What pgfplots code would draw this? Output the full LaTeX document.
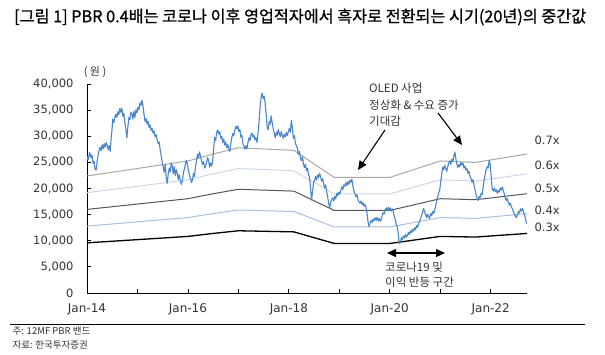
\documentclass[border=0pt]{standalone}
\usepackage{fontspec}
\usepackage{graphicx}
\setmainfont{Noto Sans CJK KR}
\newfontfamily\titlefont[FakeBold=0.9]{Noto Sans CJK KR}
\newfontfamily\numfont{DejaVu Sans}
\usepackage{pgfplots}
\pgfplotsset{compat=1.18}
\usetikzlibrary{arrows.meta}
\definecolor{priceblue}{HTML}{4A86C8}
\definecolor{band7}{HTML}{A8A8A8}
\definecolor{band6}{HTML}{CCD6E8}
\definecolor{band5}{HTML}{555555}
\definecolor{band4}{HTML}{A6BFE2}
\definecolor{txtgray}{HTML}{333333}
\begin{document}
\begin{tikzpicture}[x=1pt,y=1pt]
\useasboundingbox (0,0) rectangle (605,354);
\begin{axis}[
  at={(87pt,61pt)}, anchor=south west,
  scale only axis, width=440pt, height=209pt,
  xmin=2014, xmax=2022.72, ymin=0, ymax=40000,
  axis x line*=bottom, axis y line*=left,
  axis line style={black, line width=0.9pt, -},
  tick align=inside, major tick length=4pt,
  tick style={black, line width=0.8pt},
  xtick={2014,2015,...,2022},
  xticklabels={Jan-14,,Jan-16,,Jan-18,,Jan-20,,Jan-22},
  ytick={0,5000,...,40000},
  scaled y ticks=false,
  /pgf/number format/.cd, 1000 sep={,}, assume math mode=true,
  /pgfplots/.cd,
  ticklabel style={font=\numfont\fontsize{11.5}{12}\selectfont, text=txtgray},
  yticklabel style={xshift=-10pt},
  xticklabel style={yshift=-7pt, font=\numfont\fontsize{12}{13}\selectfont},
  clip=false,
]
% bands
\addplot[band7, line width=1pt] coordinates {(2014.0,22400) (2016.0,25270) (2016.5,26600) (2017.0,27790) (2018.1,27300) (2018.9,22120) (2020.0,22120) (2021.0,25270) (2021.7,24990) (2022.72,26600)};
\addplot[band6, line width=1pt] coordinates {(2014.0,19200) (2016.0,21660) (2016.5,22800) (2017.0,23820) (2018.1,23400) (2018.9,18960) (2020.0,18960) (2021.0,21660) (2021.7,21420) (2022.72,22800)};
\addplot[band5, line width=1pt] coordinates {(2014.0,16000) (2016.0,18050) (2016.5,19000) (2017.0,19850) (2018.1,19500) (2018.9,15800) (2020.0,15800) (2021.0,18050) (2021.7,17850) (2022.72,19000)};
\addplot[band4, line width=1pt] coordinates {(2014.0,12800) (2016.0,14440) (2016.5,15200) (2017.0,15880) (2018.1,15600) (2018.9,12640) (2020.0,12640) (2021.0,14440) (2021.7,14280) (2022.72,15200)};
\addplot[black, line width=1.3pt] coordinates {(2014.0,9600) (2016.0,10830) (2016.5,11400) (2017.0,11910) (2018.1,11700) (2018.9,9480) (2020.0,9480) (2021.0,10830) (2021.7,10710) (2022.72,11400)};
% price
\addplot[priceblue, line width=1.1pt, line join=round] table {
2014.00 25300
2014.02 26200
2014.03 25600
2014.05 26900
2014.06 26700
2014.08 25900
2014.10 26400
2014.12 24800
2014.14 25200
2014.16 23700
2014.18 23500
2014.20 25100
2014.22 26400
2014.24 27300
2014.26 27900
2014.28 27200
2014.30 28400
2014.32 27600
2014.34 28600
2014.36 27900
2014.38 28800
2014.40 28300
2014.42 27400
2014.44 28200
2014.46 27100
2014.48 29800
2014.50 31800
2014.51 33300
2014.53 32600
2014.55 33500
2014.57 34200
2014.59 33600
2014.61 34700
2014.63 34100
2014.65 35300
2014.67 34600
2014.69 35400
2014.71 33800
2014.73 34400
2014.75 32700
2014.77 31400
2014.79 29700
2014.81 31800
2014.83 33600
2014.85 33200
2014.87 34600
2014.89 34400
2014.91 33300
2014.93 34800
2014.95 33600
2014.97 35100
2014.99 34500
2015.01 35600
2015.03 35100
2015.05 36400
2015.07 35900
2015.09 36900
2015.11 35800
2015.13 34200
2015.15 32800
2015.17 33400
2015.19 32300
2015.21 32900
2015.23 31700
2015.25 32200
2015.27 31100
2015.29 31500
2015.31 30600
2015.33 31000
2015.35 29900
2015.37 30300
2015.39 29300
2015.41 28600
2015.43 28900
2015.45 27400
2015.47 26300
2015.49 25000
2015.51 24200
2015.53 23100
2015.55 24600
2015.57 22100
2015.59 21000
2015.61 22800
2015.63 23900
2015.65 23200
2015.67 24900
2015.69 24300
2015.71 22800
2015.73 24200
2015.75 22500
2015.77 23600
2015.79 22900
2015.81 21700
2015.83 22600
2015.85 21400
2015.87 20800
2015.89 21500
2015.91 22900
2015.93 23800
2015.95 24600
2015.97 25400
2015.99 24700
2016.01 23300
2016.03 22600
2016.05 22000
2016.07 21100
2016.09 21600
2016.11 22900
2016.13 22300
2016.15 24100
2016.17 25200
2016.19 26600
2016.21 25900
2016.23 27000
2016.25 26200
2016.27 25300
2016.29 24600
2016.31 25200
2016.33 23900
2016.35 24300
2016.37 25100
2016.39 25900
2016.41 25300
2016.43 24100
2016.45 24900
2016.47 24300
2016.49 25200
2016.51 27600
2016.53 29800
2016.55 29200
2016.57 30800
2016.59 31200
2016.61 30400
2016.63 30900
2016.65 29600
2016.67 30000
2016.69 28800
2016.71 29500
2016.73 28300
2016.75 28900
2016.77 27800
2016.79 28400
2016.81 27500
2016.83 27100
2016.85 28600
2016.87 29800
2016.89 30500
2016.91 30100
2016.93 31200
2016.95 31900
2016.97 31400
2016.99 32000
2017.01 30900
2017.03 31300
2017.05 29800
2017.07 30200
2017.09 28600
2017.11 28100
2017.13 27500
2017.15 28200
2017.17 27600
2017.19 28800
2017.21 29700
2017.23 29200
2017.25 30300
2017.27 30600
2017.29 29800
2017.31 30200
2017.33 29300
2017.35 29700
2017.37 28800
2017.39 30600
2017.41 32800
2017.43 35600
2017.45 37400
2017.47 38300
2017.49 37200
2017.51 37700
2017.53 36400
2017.55 34200
2017.57 31800
2017.59 31200
2017.61 32800
2017.63 32300
2017.65 33900
2017.67 32600
2017.69 31400
2017.71 30600
2017.73 29700
2017.75 30800
2017.77 30200
2017.79 31300
2017.81 30600
2017.83 29900
2017.85 30900
2017.87 30200
2017.89 29600
2017.91 30400
2017.93 29900
2017.95 30700
2017.97 30100
2017.99 30900
2018.01 31500
2018.03 30800
2018.05 33000
2018.07 31600
2018.09 29600
2018.11 30100
2018.13 28700
2018.15 28100
2018.17 27700
2018.19 26500
2018.21 27100
2018.23 25900
2018.25 25300
2018.27 26100
2018.29 24700
2018.31 24000
2018.33 24600
2018.35 23400
2018.37 23900
2018.39 22700
2018.41 22100
2018.43 20300
2018.45 17800
2018.47 19400
2018.49 21200
2018.51 21500
2018.53 22300
2018.55 21600
2018.57 22600
2018.59 22100
2018.61 22900
2018.63 22200
2018.65 21400
2018.67 21900
2018.69 20800
2018.71 20100
2018.73 20700
2018.75 19300
2018.77 18400
2018.79 17100
2018.81 16300
2018.83 17400
2018.85 17900
2018.87 18200
2018.89 17600
2018.91 18500
2018.93 18000
2018.95 19100
2018.97 18600
2018.99 19300
2019.01 18900
2019.03 19700
2019.05 20300
2019.07 19800
2019.09 20700
2019.11 20400
2019.13 21100
2019.15 20600
2019.17 21300
2019.19 20800
2019.21 21600
2019.23 21200
2019.25 21800
2019.27 20400
2019.29 19500
2019.31 19000
2019.33 18400
2019.35 18800
2019.37 17900
2019.39 17400
2019.41 17200
2019.43 17600
2019.45 16900
2019.47 17300
2019.49 16600
2019.51 16900
2019.53 16400
2019.55 15200
2019.57 13600
2019.59 12700
2019.61 13400
2019.63 13900
2019.65 13500
2019.67 14200
2019.69 13800
2019.71 14400
2019.73 13900
2019.75 14500
2019.77 13800
2019.79 14300
2019.81 13700
2019.83 14100
2019.85 14800
2019.87 15400
2019.89 15100
2019.91 15900
2019.93 16300
2019.95 15800
2019.97 16400
2019.99 15900
2020.01 16300
2020.03 15700
2020.05 16100
2020.07 15500
2020.09 14600
2020.11 14100
2020.13 13000
2020.15 12600
2020.17 11200
2020.19 9400
2020.21 9700
2020.23 10600
2020.25 10200
2020.27 10900
2020.29 10500
2020.31 11200
2020.33 10700
2020.35 11000
2020.37 11600
2020.39 11200
2020.41 11900
2020.43 11500
2020.45 12200
2020.47 11800
2020.49 12500
2020.51 12100
2020.53 12900
2020.55 12500
2020.57 13300
2020.59 13600
2020.61 14200
2020.63 14900
2020.65 15400
2020.67 16200
2020.69 15600
2020.71 15000
2020.73 14400
2020.75 15100
2020.77 14600
2020.79 14300
2020.81 15200
2020.83 14800
2020.85 15600
2020.87 15200
2020.89 15900
2020.91 16700
2020.93 17600
2020.95 18400
2020.97 19200
2020.99 19700
2021.01 21300
2021.03 22800
2021.05 24100
2021.07 23600
2021.09 24400
2021.11 23800
2021.13 23300
2021.15 24200
2021.17 24900
2021.19 25300
2021.21 24600
2021.23 25600
2021.25 25100
2021.27 26200
2021.29 27000
2021.31 25700
2021.33 24700
2021.35 24000
2021.37 24600
2021.39 24200
2021.41 25000
2021.43 24500
2021.45 24900
2021.47 23900
2021.49 24300
2021.51 23500
2021.53 23800
2021.55 22900
2021.57 23300
2021.59 22300
2021.61 21900
2021.63 21200
2021.65 21700
2021.67 20600
2021.69 19700
2021.71 18900
2021.73 18100
2021.75 17700
2021.77 18500
2021.79 18200
2021.81 19100
2021.83 18800
2021.85 20200
2021.87 21600
2021.89 22700
2021.91 23600
2021.93 24200
2021.95 23900
2021.97 25400
2021.99 24600
2022.01 22300
2022.03 19900
2022.05 19500
2022.07 20100
2022.09 19400
2022.11 19800
2022.13 19100
2022.15 19600
2022.17 19300
2022.19 20100
2022.21 19700
2022.23 20300
2022.25 19600
2022.27 19000
2022.29 18200
2022.31 17700
2022.33 18100
2022.35 17300
2022.37 16800
2022.39 17200
2022.41 16500
2022.43 16100
2022.45 15600
2022.47 15100
2022.49 14700
2022.51 14400
2022.53 15000
2022.55 15600
2022.57 15300
2022.59 16100
2022.61 15700
2022.63 16200
2022.65 15500
2022.67 15000
2022.69 14200
2022.71 13300
};
\end{axis}
% title
\node[anchor=west, inner sep=0pt, text=black] at (14,337) {\resizebox{572pt}{!}{\titlefont\fontsize{13}{15}\selectfont [그림 1] PBR 0.4배는 코로나 이후 영업적자에서 흑자로 전환되는 시기(20년)의 중간값}};
% unit
\node[font=\fontsize{11}{12}\selectfont, text=txtgray] at (95,282) {( 원 )};
% band labels
\begin{scope}[every node/.style={anchor=west, font=\numfont\fontsize{11.5}{12}\selectfont, text=txtgray}]
\node at (531,214) {0.7x};
\node at (531,189) {0.6x};
\node at (531,166) {0.5x};
\node at (531,144) {0.4x};
\node at (531,127) {0.3x};
\end{scope}
% annotations
\begin{scope}[every node/.style={anchor=west, font=\fontsize{11.5}{13}\selectfont, text=txtgray, inner sep=0pt}]
\node at (369,266) {OLED 사업};
\node at (369,249) {정상화 \& 수요 증가};
\node at (369,233) {기대감};
\node at (385,87) {코로나19 및};
\node at (385,72) {이익 반등 구간};
\end{scope}
\draw[black, line width=1.1pt, -{Triangle[length=9pt,width=8pt]}] (385,224) -- (358,184);
\draw[black, line width=1.1pt, -{Triangle[length=9pt,width=8pt]}] (438,241) -- (462,209);
\draw[black, line width=1.1pt, {Triangle[length=9pt,width=8pt]}-{Triangle[length=9pt,width=8pt]}] (387,101) -- (445,101);
% footnote
\draw[black, line width=1pt] (10,30) -- (585,30);
\node[anchor=west, font=\fontsize{9.5}{10}\selectfont, text=txtgray] at (9,23) {주: 12MF PBR 밴드};
\node[anchor=west, font=\fontsize{9.5}{10}\selectfont, text=txtgray] at (9,9) {자료: 한국투자증권};
\end{tikzpicture}
\end{document}
